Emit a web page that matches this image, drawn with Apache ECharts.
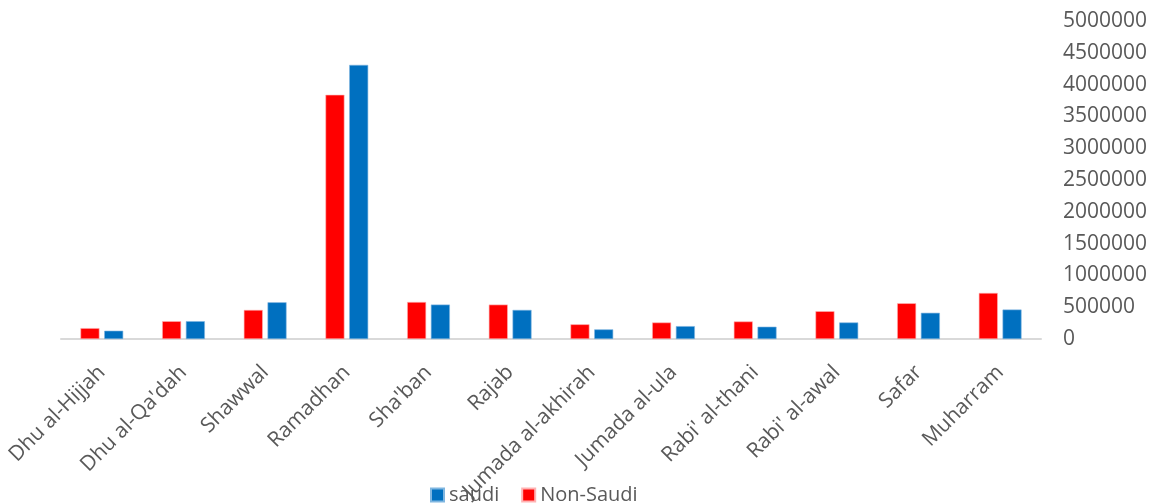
<!DOCTYPE html>
<html><head><meta charset="utf-8">
<script src="https://cdn.jsdelivr.net/npm/echarts@6/dist/echarts.min.js"></script>
<style>html,body{margin:0;padding:0;background:#fff}#c{width:1158px;height:504px}</style>
</head><body><div id="c"></div>
<script>
const categories = ["Dhu al-Hijjah","Dhu al-Qa'dah","Shawwal","Ramadhan","Sha'ban","Rajab","Jumada al-akhirah","Jumada al-ula","Rabi' al-thani","Rabi' al-awal","Safar","Muharram"];
const nonSaudi = [172000, 281000, 458000, 3840000, 583000, 542000, 232000, 261000, 277000, 438000, 563000, 725000];
const saudi = [131000, 281000, 578000, 4310000, 542000, 458000, 152000, 203000, 194000, 261000, 413000, 464000];
const yTicks = [0, 500000, 1000000, 1500000, 2000000, 2500000, 3000000, 3500000, 4000000, 4500000, 5000000];

const FONT = '"Open Sans", "Noto Sans", sans-serif';
const chart = echarts.init(document.getElementById('c'));
chart.setOption({
  animation: false,
  textStyle: { fontFamily: FONT },
  legend: {
    data: ['saudi', 'Non-Saudi'],
    top: 480, left: 425,
    itemWidth: 13, itemHeight: 13, itemGap: 22,
    icon: 'rect',
    textStyle: { fontFamily: FONT, fontSize: 20, color: '#595959' }
  },
  grid: { left: 61, right: 117, top: 21, bottom: 164, containLabel: false },
  xAxis: {
    type: 'category',
    data: categories,
    axisLine: { lineStyle: { color: '#d9d9d9', width: 2 } },
    axisTick: { show: false },
    axisLabel: { rotate: 45, interval: 0, margin: 30, fontFamily: FONT, fontSize: 21, color: '#595959' }
  },
  yAxis: {
    type: 'value',
    position: 'right',
    min: yTicks[0], max: yTicks[yTicks.length - 1], interval: 500000,
    splitLine: { show: false },
    axisLine: { show: false },
    axisTick: { show: false },
    axisLabel: { margin: 22, fontFamily: FONT, fontSize: 21, color: '#595959', padding: [4, 0, 0, 0],
      formatter: function (v) { return String(v); } }
  },
  series: [
    { name: 'Non-Saudi', type: 'bar', data: nonSaudi, barWidth: 19, barGap: '25%',
      itemStyle: { color: '#FF0000', borderColor: '#ffb3b3', borderWidth: 0.6 } },
    { name: 'saudi', type: 'bar', data: saudi, barWidth: 19, barGap: '25%',
      itemStyle: { color: '#0070C0', borderColor: '#7fb6e0', borderWidth: 0.6 } }
  ]
});
</script></body></html>
